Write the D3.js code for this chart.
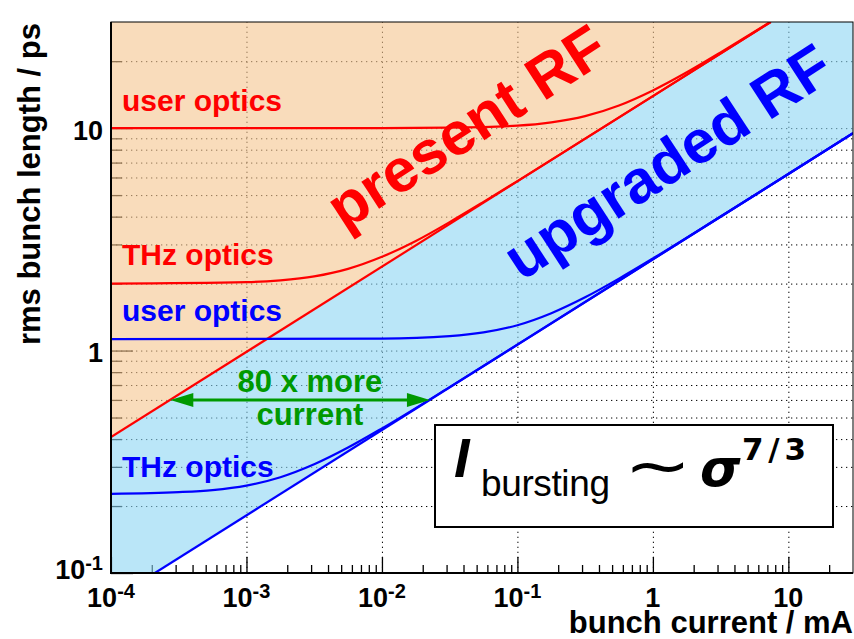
<!DOCTYPE html>
<html>
<head>
<meta charset="utf-8">
<script src="https://cdn.jsdelivr.net/npm/d3@7"></script>
<style>
  html, body { margin: 0; padding: 0; background: #fff; }
  svg { display: block; font-family: "Liberation Sans", Arial, Helvetica, sans-serif; }
</style>
</head>
<body>
<div id="chart"></div>
<script>
// bunch current in mA, rms bunch length in ps
const presentRF = [[1e-4, 0.408], [7.4, 30]];
const upgradedRF = [[2.11e-4, 0.1], [30, 9.48]];

const presentUser = [[1e-4, 10.0], [1e-2, 10.01], [3.16e-2, 10.05], [0.1, 10.26], [0.178, 10.61],
  [0.316, 11.32], [0.562, 12.64], [1, 14.77], [1.78, 17.82], [3.16, 21.9], [5.62, 27.13], [7.41, 30.1]];
const presentTHz = [[1e-4, 2.0], [1e-3, 2.03], [1.78e-3, 2.07], [3.16e-3, 2.155], [5.62e-3, 2.33],
  [1e-2, 2.64], [1.78e-2, 3.11], [3.16e-2, 3.78], [5.62e-2, 4.66], [0.1, 5.78], [0.316, 8.97],
  [1, 13.93], [7.41, 30.0]];
const upgradedUser = [[1e-4, 1.125], [1e-2, 1.131], [3.16e-2, 1.161], [5.62e-2, 1.207], [0.1, 1.30],
  [0.178, 1.472], [0.316, 1.735], [0.562, 2.106], [1, 2.594], [3.16, 4.006], [10, 6.22], [30, 9.48]];
const upgradedTHz = [[1e-4, 0.227], [3.16e-4, 0.2309], [5.62e-4, 0.236], [1e-3, 0.2472],
  [1.78e-3, 0.2696], [3.16e-3, 0.3082], [5.62e-3, 0.3665], [1e-2, 0.4468], [3.16e-2, 0.685],
  [0.1, 1.063], [1, 2.571], [30, 9.48]];

// "80 x more current" arrow
const arrowSpan = [[2.74e-4, 0.6], [0.0226, 0.6]];

const xMajor = [1e-4, 1e-3, 1e-2, 1e-1, 1, 10];
const xLabels = [["10", "-4"], ["10", "-3"], ["10", "-2"], ["10", "-1"], ["1", ""], ["10", ""]];
const yMajor = [0.1, 1, 10];
const yLabels = [["10", "-1"], ["1", ""], ["10", ""]];

const width = 854, height = 639;
const margin = {top: 22, right: 1, bottom: 66, left: 111};
const x0 = margin.left, x1 = width - margin.right;
const y0 = height - margin.bottom, y1 = margin.top;

const x = d3.scaleLog().domain([1e-4, 30]).range([x0, x1]);
const y = d3.scaleLog().domain([0.1, 30]).range([y0, y1]);

const red = "#ff0000", blue = "#0000ff", green = "#009900";

const svg = d3.select("#chart").append("svg")
    .attr("width", width)
    .attr("height", height)
    .attr("viewBox", [0, 0, width, height]);

svg.append("defs").append("clipPath").attr("id", "frame")
  .append("rect")
    .attr("x", x0).attr("y", y1)
    .attr("width", x1 - x0).attr("height", y0 - y1);

const inside = (v, s) => v > s.domain()[0] * 1.0001 && v < s.domain()[1] * 0.9999;
const isMajor = v => Math.abs(Math.log10(v) - Math.round(Math.log10(v))) < 1e-6;

// grid
svg.append("g")
    .attr("transform", `translate(0,${y0})`)
    .call(d3.axisBottom(x).tickValues(xMajor.filter(v => inside(v, x))).tickSize(-(y0 - y1)).tickFormat(""))
    .call(g => g.select(".domain").remove())
    .call(g => g.selectAll(".tick line").attr("stroke", "#000").attr("stroke-dasharray", "1.3,3.7"));

svg.append("g")
    .attr("transform", `translate(${x0},0)`)
    .call(d3.axisLeft(y).tickValues(y.ticks().filter(v => inside(v, y))).tickSize(-(x1 - x0)).tickFormat(""))
    .call(g => g.select(".domain").remove())
    .call(g => g.selectAll(".tick line").attr("stroke", "#000").attr("stroke-dasharray", "1.3,3.7"));

// tick marks
const xMinor = x.ticks().filter(v => !isMajor(v) && inside(v, x));
const yMinor = y.ticks().filter(v => !isMajor(v) && inside(v, y));

svg.append("g")
    .attr("transform", `translate(0,${y0})`)
    .call(d3.axisBottom(x).tickValues(xMinor).tickSize(-8).tickFormat(""))
    .call(g => g.select(".domain").remove())
    .call(g => g.selectAll(".tick line").attr("stroke-width", 1.3));
svg.append("g")
    .attr("transform", `translate(0,${y0})`)
    .call(d3.axisBottom(x).tickValues(xMajor).tickSize(-16).tickFormat(""))
    .call(g => g.select(".domain").remove())
    .call(g => g.selectAll(".tick line").attr("stroke-width", 1.3));
svg.append("g")
    .attr("transform", `translate(${x0},0)`)
    .call(d3.axisLeft(y).tickValues(yMinor).tickSize(-11).tickFormat(""))
    .call(g => g.select(".domain").remove())
    .call(g => g.selectAll(".tick line").attr("stroke-width", 1.3));
svg.append("g")
    .attr("transform", `translate(${x0},0)`)
    .call(d3.axisLeft(y).tickValues(yMajor).tickSize(-22).tickFormat(""))
    .call(g => g.select(".domain").remove())
    .call(g => g.selectAll(".tick line").attr("stroke-width", 1.3));

// shaded regions
const poly = d3.line().x(d => x(d[0])).y(d => y(d[1]));
const [xlo, xhi] = x.domain(), [ylo, yhi] = y.domain();
const presentArea = [presentRF[0], presentRF[1], [xlo, yhi]];
const upgradedArea = [presentRF[0], presentRF[1], [xhi, yhi], upgradedRF[1], upgradedRF[0], [xlo, ylo]];

const fills = svg.append("g").attr("clip-path", "url(#frame)");
fills.append("path").attr("d", poly(presentArea) + "Z").attr("fill", "rgb(245,197,142)").attr("fill-opacity", 0.6);
fills.append("path").attr("d", poly(upgradedArea) + "Z").attr("fill", "rgb(140,214,243)").attr("fill-opacity", 0.6);

// curves
const curve = d3.line().x(d => x(d[0])).y(d => y(d[1])).curve(d3.curveMonotoneX);
const lines = svg.append("g").attr("clip-path", "url(#frame)").attr("fill", "none").attr("stroke-width", 2.2);
[[presentRF, red], [presentUser, red], [presentTHz, red],
 [upgradedRF, blue], [upgradedUser, blue], [upgradedTHz, blue]].forEach(([data, c]) => {
  lines.append("path").attr("d", curve(data)).attr("stroke", c);
});

// frame
svg.append("rect")
    .attr("x", x0).attr("y", y1).attr("width", x1 - x0).attr("height", y0 - y1)
    .attr("fill", "none").attr("stroke", "#000").attr("stroke-width", 1);
svg.append("path")
    .attr("d", `M${x0},${y1}V${y0}H${x1}`)
    .attr("fill", "none").attr("stroke", "#000").attr("stroke-width", 2);

// tick labels
const xl = svg.append("g").attr("font-weight", "bold").attr("text-anchor", "middle");
xMajor.forEach((v, i) => {
  const t = xl.append("text").attr("x", x(v)).attr("y", 607).attr("font-size", 27);
  t.append("tspan").text(xLabels[i][0]);
  if (xLabels[i][1]) t.append("tspan").attr("font-size", 20).attr("dy", -9).text(xLabels[i][1]);
});
const yl = svg.append("g").attr("font-weight", "bold").attr("text-anchor", "end");
yMajor.forEach((v, i) => {
  const sup = yLabels[i][1];
  const t = yl.append("text").attr("x", x0 - 8).attr("y", y(v) + (sup ? 5.5 : 11.5)).attr("font-size", 27);
  t.append("tspan").text(yLabels[i][0]);
  if (sup) t.append("tspan").attr("font-size", 20).attr("dy", -9).text(sup);
});

// axis titles
svg.append("text")
    .attr("x", x1).attr("y", 633)
    .attr("text-anchor", "end").attr("font-weight", "bold").attr("font-size", 31)
    .text("bunch current / mA");
svg.append("text")
    .attr("transform", `translate(40,${y1 + 1}) rotate(-90)`)
    .attr("text-anchor", "end").attr("font-weight", "bold").attr("font-size", 31)
    .text("rms bunch length / ps");

// curve labels
const lab = svg.append("g").attr("font-weight", "bold").attr("font-size", 30);
lab.append("text").attr("x", 122).attr("y", 111).attr("fill", red).text("user optics");
lab.append("text").attr("x", 122).attr("y", 265).attr("fill", red).text("THz optics");
lab.append("text").attr("x", 122).attr("y", 321).attr("fill", blue).text("user optics");
lab.append("text").attr("x", 122).attr("y", 477).attr("fill", blue).text("THz optics");

lab.append("text")
    .attr("transform", "translate(466,126) rotate(-33)")
    .attr("text-anchor", "middle").attr("dy", "0.36em").attr("font-size", 61).attr("fill", red)
    .text("present RF");
lab.append("text")
    .attr("transform", "translate(667,161) rotate(-33)")
    .attr("text-anchor", "middle").attr("dy", "0.36em").attr("font-size", 61).attr("fill", blue)
    .text("upgraded RF");

// 80x arrow
const ay = y(arrowSpan[0][1]);
const axL = x(arrowSpan[0][0]), axR = x(arrowSpan[1][0]);
const head = 23, half = 7;
const arr = svg.append("g").attr("fill", green).attr("stroke", green);
arr.append("line").attr("x1", axL + head - 2).attr("x2", axR - head + 2).attr("y1", ay).attr("y2", ay).attr("stroke-width", 3);
arr.append("path").attr("stroke", "none")
    .attr("d", `M${axL},${ay}L${axL + head},${ay - half}L${axL + head},${ay + half}Z`);
arr.append("path").attr("stroke", "none")
    .attr("d", `M${axR},${ay}L${axR - head},${ay - half}L${axR - head},${ay + half}Z`);
lab.append("text").attr("x", 310).attr("y", 392).attr("text-anchor", "middle").attr("font-size", 31).attr("fill", green).text("80 x more");
lab.append("text").attr("x", 310).attr("y", 425).attr("text-anchor", "middle").attr("font-size", 31).attr("fill", green).text("current");

// formula box
const box = svg.append("g");
box.append("rect").attr("x", 435).attr("y", 425).attr("width", 398).attr("height", 102)
    .attr("fill", "#fff").attr("stroke", "#000").attr("stroke-width", 2);
box.append("text").attr("x", 454).attr("y", 477)
    .attr("font-size", 56).attr("font-weight", "bold").attr("font-style", "italic").text("I");
box.append("text").attr("x", 481).attr("y", 496)
    .attr("font-size", 37).attr("textLength", 129).text("bursting");
box.append("text").attr("transform", "translate(624,487) scale(1.3,1)")
    .attr("font-family", "DejaVu Sans").attr("font-size", 62).text("\u223C");
box.append("text").attr("x", 700).attr("y", 486)
    .attr("font-family", "DejaVu Sans").attr("font-size", 52).attr("font-weight", "bold").attr("font-style", "italic")
    .text("\u03C3");
box.append("text").attr("x", 742).attr("y", 460)
    .attr("font-family", "DejaVu Sans").attr("font-size", 31).attr("font-weight", "bold").attr("textLength", 64)
    .text("7/3");
</script>
</body>
</html>
